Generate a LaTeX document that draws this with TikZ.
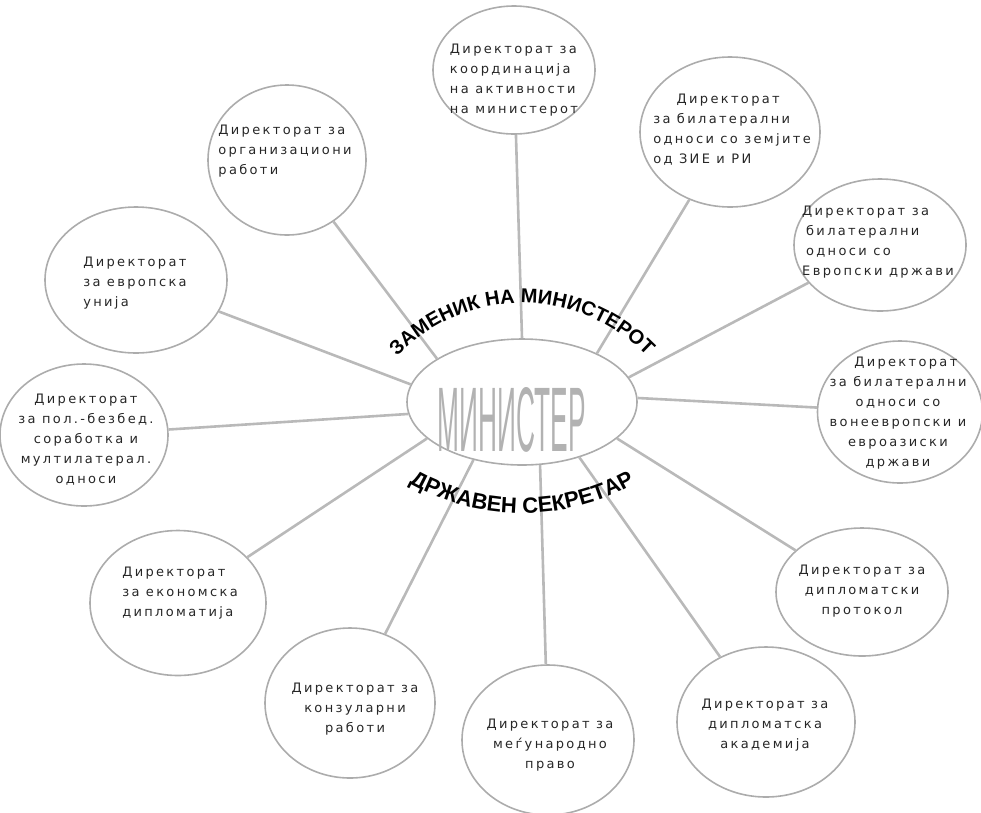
\documentclass[tikz,border=0pt]{standalone}
\usepackage{fontspec}
\setmainfont{DejaVu Sans}
\newfontfamily\dirfam[LetterSpace=18]{DejaVu Sans}
\newfontfamily\headfam{Liberation Sans}
\newcommand{\dirfont}{\dirfam\fontsize{13}{20}\selectfont}
\newcommand{\arcfont}{\headfam\bfseries\fontsize{20}{20}\selectfont}
\newcommand{\arcfontb}{\headfam\bfseries\fontsize{22}{22}\selectfont}
\usetikzlibrary{shapes.geometric,decorations.text}

\begin{document}
\begin{tikzpicture}[x=1pt,y=-1pt,
    dir/.style={draw=gray!65, line width=1.6pt, ellipse, inner sep=0pt},
    txt/.style={font=\dirfont, text=black!85, align=center, inner sep=0pt},
    conn/.style={draw=gray!55, line width=2.6pt},
    arctext/.style={decorate, decoration={text along path, text align=center, text={#1}}}
]
\useasboundingbox (0,0) rectangle (981,812);

% centre
\node[dir, minimum width=230pt, minimum height=126pt] (min) at (522,402) {};
\node[text=gray!60, inner sep=0pt] (mintxt) at (512,420)
    {\resizebox{148pt}{64pt}{\headfam МИНИСТЕР}};

% directorates
\node[dir, minimum width=162pt, minimum height=128pt] (koord) at (514,70) {};
\node[dir, minimum width=158pt, minimum height=150pt] (org) at (287,160) {};
\node[dir, minimum width=180pt, minimum height=150pt] (zie) at (730,132) {};
\node[dir, minimum width=172pt, minimum height=132pt] (evr) at (880,245) {};
\node[dir, minimum width=182pt, minimum height=146pt] (eu) at (136,280) {};
\node[dir, minimum width=165pt, minimum height=142pt] (vonevr) at (900,412) {};
\node[dir, minimum width=168pt, minimum height=142pt] (pol) at (84,435) {};
\node[dir, minimum width=176pt, minimum height=145pt] (econ) at (178,603) {};
\node[dir, minimum width=172pt, minimum height=128pt] (prot) at (862,592) {};
\node[dir, minimum width=170pt, minimum height=150pt] (konz) at (350,703) {};
\node[dir, minimum width=172pt, minimum height=150pt] (pravo) at (548,740) {};
\node[dir, minimum width=178pt, minimum height=150pt] (akad) at (766,722) {};

\node[txt, align=left] (koord-t) at (514,80) {Директорат за\\координација\\на активности\\на министерот};
\node[txt, align=left] (org-t) at (285,151) {Директорат за\\организациони\\работи};
\node[txt, align=left] (zie-t) at (732,130) {\hspace*{1.8em}Директорат\\за билатерални\\односи со земјите\\од ЗИЕ и РИ};
\node[txt, align=left] (evr-t) at (878,242) {Директорат за\\\hspace*{0.3em}билатерални\\\hspace*{0.3em}односи со\\Европски држави};
\node[txt, align=left] (eu-t) at (135,283) {Директорат\\за европска\\унија};
\node[txt] (vonevr-t) at (898,413) {\hspace*{1.2em}Директорат\\за билатерални\\односи со\\вонеевропски и\\евроазиски\\држави};
\node[txt] (pol-t) at (86,440) {Директорат\\за пол.-безбед.\\соработка и\\мултилатерал.\\односи};
\node[txt, align=left] (econ-t) at (180,593) {Директорат\\за економска\\дипломатија};
\node[txt] (prot-t) at (862,591) {Директорат за\\дипломатски\\протокол};
\node[txt] (konz-t) at (355,709) {Директорат за\\конзуларни\\работи};
\node[txt] (pravo-t) at (550,745) {Директорат за\\меѓународно\\право};
\node[txt] (akad-t) at (765,725) {Директорат за\\дипломатска\\академија};

% connectors
\draw[conn] (min.90) -- (koord);
\draw[conn] (min.153) -- (org);
\draw[conn] (min.33) -- (zie);
\draw[conn] (min.13) -- (evr);
\draw[conn] (min.171) -- (eu);
\draw[conn] (min.2) -- (vonevr);
\draw[conn] (min.186) -- (pol);
\draw[conn] (min.201) -- (econ);
\draw[conn] (min.339) -- (prot);
\draw[conn] (min.230) -- (konz);
\draw[conn] (min.286) -- (pravo);
\draw[conn] (min.316) -- (akad);

% arched titles
\path[arctext={|\arcfont|ЗАМЕНИК НА МИНИСТЕРОТ}]
    (522,476) ++(221:173) arc[start angle=221, end angle=319, radius=173];
\path[arctext={|\arcfontb|ДРЖАВЕН СЕКРЕТАР}]
    (522,281) ++(122:232) arc[start angle=122, end angle=58, radius=232];
\end{tikzpicture}
\end{document}
